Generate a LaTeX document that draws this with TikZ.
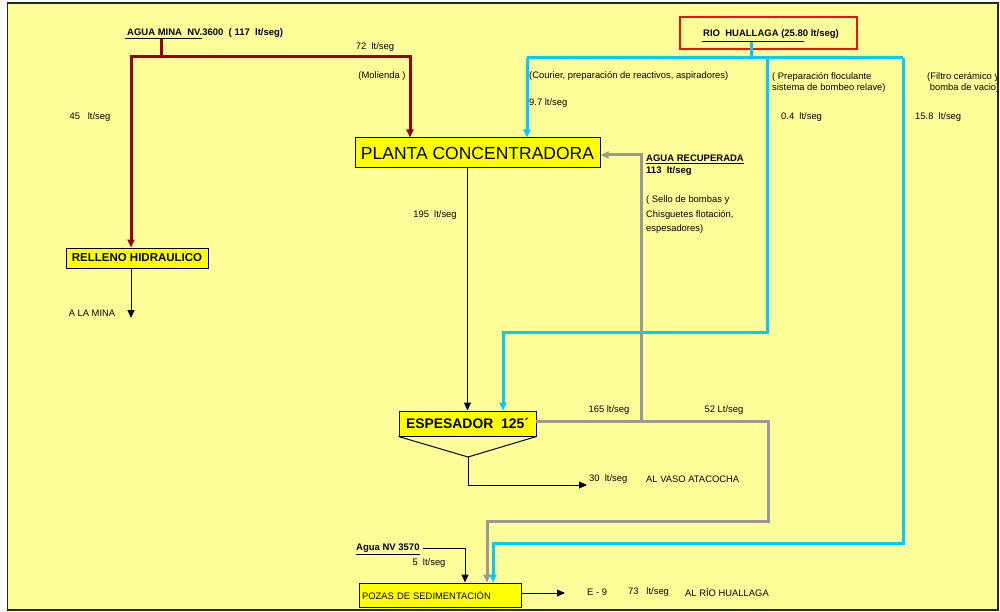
\documentclass[tikz,border=0pt]{standalone}
\usepackage{fontspec}
\setmainfont{Liberation Sans}
\usetikzlibrary{arrows.meta}
\definecolor{bg}{HTML}{FFFF99}
\definecolor{boxy}{HTML}{FFFF00}
\definecolor{pipered}{HTML}{990000}
\definecolor{pipeblue}{HTML}{00CCFF}
\definecolor{pipegray}{HTML}{999999}
\definecolor{riored}{HTML}{EE1111}
\begin{document}
\begin{tikzpicture}[x=1pt,y=-1pt,
  lbl/.style={font=\fontsize{9.4}{11}\selectfont, inner sep=0pt},
  blbl/.style={font=\fontsize{9.5}{11.5}\selectfont\bfseries, inner sep=0pt},
  box/.style={draw=black, fill=boxy, line width=1pt, inner sep=0pt},
  redpipe/.style={draw=pipered, line width=3pt},
  bluepipe/.style={draw=pipeblue, line width=3pt},
  graypipe/.style={draw=pipegray, line width=3pt},
  blk/.style={draw=black, line width=1pt},
  tip/.style={-{Triangle[length=8pt,width=7pt]}}
]
\useasboundingbox (0,0) rectangle (1000,612);
\fill[white] (0,0) rectangle (1000,612);
\fill[bg] (7.5,3) rectangle (998,610);

% boxes
\node[box, minimum width=245pt, minimum height=30pt, font=\fontsize{17.5}{19}\selectfont] (planta) at (477.5,153) {PLANTA CONCENTRADORA};
\node[box, minimum width=142pt, minimum height=20pt, font=\fontsize{11.5}{13}\selectfont\bfseries] (relleno) at (137,258) {RELLENO HIDRAULICO};
\node[box, minimum width=137pt, minimum height=25pt, font=\fontsize{13.9}{15}\selectfont\bfseries] (espesador) at (467.5,423.5) {ESPESADOR\ \ 125´};
\node[box, minimum width=162pt, minimum height=24pt, text width=156pt, inner xsep=3pt, align=left, font=\fontsize{9.4}{11}\selectfont] (pozas) at (440,595) {POZAS DE SEDIMENTACIÓN};
\node[draw=riored, line width=2pt, minimum width=177pt, minimum height=32pt, inner sep=0pt] (rio) at (768.5,33) {};

% titles
\node[blbl, anchor=west] (agua) at (127,33) {AGUA MINA\ \ NV.3600\ \ ( 117\ \ lt/seg)};
\draw[blk] (125,39) -- (202,39);
\node[blbl, anchor=center] (riotxt) at (771,34) {RIO\ \ HUALLAGA (25.80 lt/seg)};
\draw[blk] (702,42) -- (804,42);

% red pipes
\coordinate (rs) at (161,39);
\coordinate (rc) at (161,57);
\coordinate (rj) at (131,57);
\coordinate (rr) at (410,57);
\draw[redpipe] (rs) -- (rc);
\draw[redpipe, tip] (rr) -- (rj) -- (rj |- relleno.north);
\draw[redpipe, tip] (rj) -- (rr) -- (rr |- planta.north);

% blue pipes
\coordinate (bs) at (751,42);
\coordinate (bj) at (751,58);
\coordinate (bl) at (527,58);
\coordinate (bm) at (767,58);
\coordinate (br) at (903,58);
\coordinate (bm2) at (767,332);
\coordinate (bm3) at (503,332);
\coordinate (br2) at (903,543);
\coordinate (br3) at (493,543);
\draw[bluepipe] (bs) -- (bj);
\draw[bluepipe] (bl) -- (br);
\draw[bluepipe, tip] (bl) -- (bl |- planta.north);
\draw[bluepipe, tip] (bm) -- (bm2) -- (bm3) -- (bm3 |- espesador.north);
\draw[bluepipe, tip] (br) -- (br2) -- (br3) -- (br3 |- pozas.north);

% gray pipes
\coordinate (ge) at (536,421);
\coordinate (gj) at (641,421);
\coordinate (gu) at (641,155);
\coordinate (gr) at (768,421);
\coordinate (gr2) at (768,521);
\coordinate (gr3) at (487,521);
\draw[graypipe, tip] (gj) -- (gu) -- (planta.east |- gu);
\draw[graypipe, tip] (ge) -- (gr) -- (gr2) -- (gr3) -- (gr3 |- pozas.north);

% black lines
\draw[blk, tip] (planta.south -| espesador.north) -- (espesador.north);
\coordinate (apex) at (468,457);
\draw[blk] (espesador.south west) -- (apex) -- (espesador.south east);
\coordinate (v1) at (468,485);
\coordinate (v2) at (587,485);
\draw[blk, tip] (apex) -- (v1) -- (v2);
\coordinate (mina) at (131,318);
\draw[blk, tip] (relleno.south -| mina) -- (mina);
\coordinate (n1) at (423,548);
\coordinate (n2) at (465,548);
\draw[blk] (n1) -- (n2);
\draw[blk, tip] (n2) -- (n2 |- pozas.north);
\coordinate (e9) at (565,593);
\draw[blk, tip] (pozas.east |- e9) -- (e9);

% labels
\node[lbl] (l72) at (375,47) {72\ \ lt/seg};
\node[lbl] (lmol) at (382,76) {(Molienda )};
\node[lbl] (l45) at (90,117) {45\ \ \ lt/seg};
\node[lbl] (l195) at (435,215) {195\ \ lt/seg};
\node[lbl] (lmina) at (92,313) {A LA MINA};
\node[lbl, anchor=west] (lcou) at (529,76) {(Courier, preparación de reactivos, aspiradores)};
\node[lbl, anchor=west] (l97) at (529,103) {9.7 lt/seg};
\node[lbl, anchor=west, align=left] (lflo) at (772,83) {( Preparación floculante\\sistema de bombeo relave)};
\node[lbl, anchor=west] (l04) at (781,117) {0.4\ \ lt/seg};
\begin{scope}
\clip (7.5,3) rectangle (997,610);
\node[lbl, anchor=west, align=left] (lfil) at (927,83) {(Filtro cerámico y\\\ bomba de vacio)};
\end{scope}
\node[lbl, anchor=west] (l158) at (915,117) {15.8\ \ lt/seg};
\node[blbl, anchor=west, align=left] (lrec) at (646,165) {\underline{AGUA RECUPERADA}\\113\ \ lt/seg};
\node[lbl, anchor=west, align=left, font=\fontsize{9.4}{14.5}\selectfont] (lsel) at (646,215) {( Sello de bombas y\\Chisguetes flotación,\\espesadores)};
\node[lbl] (l165) at (609,410) {165 lt/seg};
\node[lbl] (l52) at (724,410) {52 Lt/seg};
\node[lbl, anchor=west] (l30) at (589,479) {30\ \ lt/seg};
\node[lbl, anchor=west] (lvaso) at (646,479) {AL VASO ATACOCHA};
\node[blbl, anchor=west] (lnv) at (356,549) {\underline{Agua NV 3570}};
\node[lbl] (l5) at (429,563) {5\ \ lt/seg};
\node[lbl, anchor=west] (le9) at (587,592) {E - 9};
\node[lbl, anchor=west] (l73) at (628,592) {73\ \ \ lt/seg};
\node[lbl, anchor=west] (lrio) at (685,592) {AL RÍO HUALLAGA};

\draw[draw=black!85, line width=1.5pt] (7.5,3) rectangle (998,610);
\end{tikzpicture}
\end{document}
